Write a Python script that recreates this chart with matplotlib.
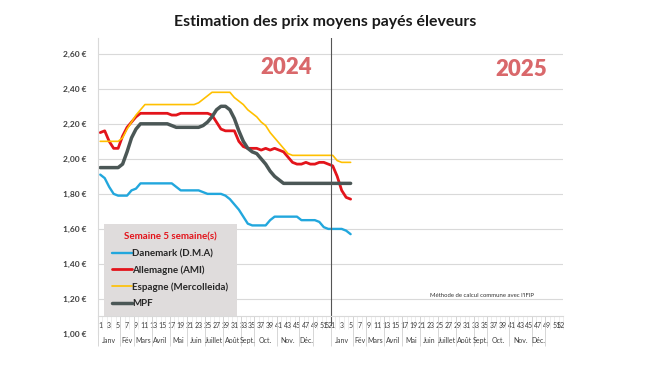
import matplotlib
matplotlib.use("Agg")
import matplotlib.pyplot as plt
import numpy as np

plt.rcParams['font.family'] = ['Lato', 'DejaVu Sans']

# weekly prices, 2024 weeks 1-52 then 2025 weeks 1-5
danemark = [1.91, 1.89, 1.84, 1.80, 1.79, 1.79, 1.79, 1.82, 1.83, 1.86,
            1.86, 1.86, 1.86, 1.86, 1.86, 1.86, 1.86, 1.84, 1.82, 1.82,
            1.82, 1.82, 1.82, 1.81, 1.80, 1.80, 1.80, 1.80, 1.79, 1.77,
            1.74, 1.71, 1.67, 1.63, 1.62, 1.62, 1.62, 1.62, 1.65, 1.67,
            1.67, 1.67, 1.67, 1.67, 1.67, 1.65, 1.65, 1.65, 1.65, 1.64,
            1.61, 1.60,
            1.60, 1.60, 1.60, 1.59, 1.57]
allemagne = [2.15, 2.16, 2.10, 2.06, 2.06, 2.13, 2.18, 2.21, 2.24, 2.26,
             2.26, 2.26, 2.26, 2.26, 2.26, 2.26, 2.25, 2.25, 2.26, 2.26,
             2.26, 2.26, 2.26, 2.26, 2.26, 2.25, 2.21, 2.17, 2.16, 2.16,
             2.16, 2.10, 2.07, 2.06, 2.06, 2.06, 2.05, 2.06, 2.05, 2.06,
             2.05, 2.04, 2.01, 1.98, 1.97, 1.97, 1.98, 1.97, 1.97, 1.98,
             1.98, 1.97,
             1.96, 1.90, 1.82, 1.78, 1.77]
espagne = [2.10, 2.10, 2.10, 2.10, 2.10, 2.12, 2.17, 2.21, 2.25, 2.28,
           2.31, 2.31, 2.31, 2.31, 2.31, 2.31, 2.31, 2.31, 2.31, 2.31,
           2.31, 2.31, 2.32, 2.34, 2.36, 2.38, 2.38, 2.38, 2.38, 2.38,
           2.35, 2.33, 2.31, 2.28, 2.26, 2.24, 2.21, 2.19, 2.15, 2.12,
           2.09, 2.06, 2.03, 2.02, 2.02, 2.02, 2.02, 2.02, 2.02, 2.02,
           2.02, 2.02,
           2.02, 1.99, 1.98, 1.98, 1.98]
mpf = [1.95, 1.95, 1.95, 1.95, 1.95, 1.97, 2.04, 2.12, 2.17, 2.20,
       2.20, 2.20, 2.20, 2.20, 2.20, 2.20, 2.19, 2.18, 2.18, 2.18,
       2.18, 2.18, 2.18, 2.19, 2.21, 2.24, 2.28, 2.30, 2.30, 2.28,
       2.23, 2.16, 2.10, 2.06, 2.04, 2.03, 2.00, 1.97, 1.93, 1.90,
       1.88, 1.86, 1.86, 1.86, 1.86, 1.86, 1.86, 1.86, 1.86, 1.86,
       1.86, 1.86,
       1.86, 1.86, 1.86, 1.86, 1.86]

series_names = ['Danemark (D.M.A)', 'Allemagne (AMI)', 'Espagne (Mercolleida)', 'MPF']
series_colors = ['#22a7dd', '#e3141b', '#ffc000', '#4b5756']
series_widths = [1.7, 2.0, 1.2, 2.5]

years = ['2024', '2025']
weeks_per_year = 52
months = ['Janv', 'Fév', 'Mars', 'Avril', 'Mai', 'Juin', 'Juillet', 'Août',
          'Sept.', 'Oct.', 'Nov.', 'Déc.']
# first week of each month group, last group ends after week 48
month_starts = [1, 6, 9, 13, 17, 21, 25, 29, 33, 36, 41, 46, 49]

n_cat = weeks_per_year * len(years)
x = np.arange(len(mpf))

fig = plt.figure(figsize=(6.5, 3.66), dpi=100)
ax = fig.add_axes([98 / 650, 32 / 366, 465 / 650, 296 / 366])

for vals, name, col, lw in zip([danemark, allemagne, espagne, mpf],
                               series_names, series_colors, series_widths):
    ax.plot(x, vals, color=col, lw=lw, label=name, solid_capstyle='round',
            solid_joinstyle='round')

ax.set_xlim(-0.5, n_cat - 0.5)
ax.set_ylim(1.0, 2.69)

# spines first (moving a spine resets its ticks)
for s in ['top', 'right']:
    ax.spines[s].set_visible(False)
ax.spines['bottom'].set_position(('data', 1.1))
ax.spines['bottom'].set_color('#d9d9d9')
ax.spines['left'].set_color('#d9d9d9')

# y axis
yt = np.arange(1.0, 2.61, 0.2)
ax.set_yticks(yt)
ax.set_yticklabels([('%.2f €' % v).replace('.', ',') for v in yt],
                   fontsize=6, color='#404040', fontweight='bold')
ax.yaxis.grid(True, color='#d9d9d9', lw=0.8)
ax.yaxis.get_gridlines()[0].set_visible(False)
ax.tick_params(axis='y', length=0, pad=8)
ax.set_axisbelow(True)

# x axis : week numbers
tick_pos, tick_lab = [], []
for y in range(len(years)):
    for w in list(range(1, weeks_per_year, 2)) + [weeks_per_year]:
        tick_pos.append(y * weeks_per_year + w - 1)
        tick_lab.append(str(w))
ax.set_xticks(tick_pos)
ax.set_xticklabels(tick_lab)
ax.tick_params(axis='x', which='major', length=0, pad=4, labelsize=5,
               labelcolor='#404040')
# light category separators under the axis
ax.vlines(np.arange(-0.5, n_cat, 1), 1.03, 1.1, color='#e6e6e6', lw=0.5,
          clip_on=False, zorder=0)

# month labels and separators
for y in range(len(years)):
    off = y * weeks_per_year
    for i, m in enumerate(months):
        a = off + month_starts[i] - 1.5
        b = off + month_starts[i + 1] - 1.5
        ax.text((a + b) / 2, 0.965, m, ha='center', va='center', fontsize=5,
                color='#404040', clip_on=False)
        ax.vlines(a, 0.93, 1.1, color='#d0d0d0', lw=0.6, clip_on=False)
    ax.vlines(off + month_starts[-1] - 1.5, 0.93, 1.1, color='#d0d0d0',
              lw=0.6, clip_on=False)

# year separator
ax.axvline(weeks_per_year - 0.5, ymin=(1.1 - 1.0) / 1.69 - 0.03, color='#555555', lw=0.8)

ax.text(0.405, 0.9, years[0], transform=ax.transAxes, ha='center', va='center',
        fontsize=16, fontweight='heavy', color='#d9686b')
ax.text(0.91, 0.895, years[1], transform=ax.transAxes, ha='center', va='center',
        fontsize=16, fontweight='heavy', color='#d9686b')

ax.text(0.714, 0.129, "Méthode de calcul commune avec l'IFIP", transform=ax.transAxes,
        fontsize=4.3, color='#333333', ha='left', va='center')

leg = ax.legend(loc='lower left', bbox_to_anchor=(0.013, 0.06), borderaxespad=0,
                frameon=True, fancybox=False, facecolor='#dfdcdc', edgecolor='none',
                framealpha=1, handlelength=2.0, handletextpad=0.05,
                title='Semaine 5 semaine(s)', fontsize=7, labelspacing=0.75,
                borderpad=0.85)
leg.get_title().set_color('#e3141b')
leg.get_title().set_fontweight('bold')
leg.get_title().set_fontsize(7)
for t in leg.get_texts():
    t.set_fontweight('bold')
    t.set_color('#262626')

fig.text(0.5, 1 - 22 / 366, 'Estimation des prix moyens payés éleveurs',
         ha='center', va='center', fontsize=11.4, fontweight='bold', color='#1a1a1a')

fig.savefig('out.png', dpi=100)
plt.close()
